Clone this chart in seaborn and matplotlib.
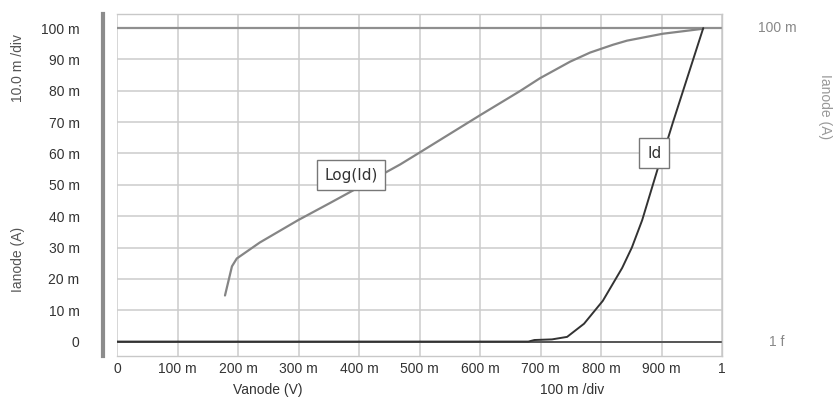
import matplotlib
matplotlib.use("Agg")
import matplotlib.pyplot as plt
import matplotlib.transforms as mtransforms
import seaborn as sns
import pandas as pd

# ---- data (V, A) ----
log_x = [0.1785, 0.190, 0.198, 0.236, 0.299, 0.352, 0.390, 0.468, 0.501,
         0.600, 0.666, 0.699, 0.749, 0.782, 0.820, 0.843, 0.902, 0.969]
log_y = [0.0147, 0.0240, 0.0265, 0.0316, 0.0387, 0.0442, 0.0482, 0.0565, 0.0604,
         0.0722, 0.0799, 0.0840, 0.0893, 0.0922, 0.0947, 0.0960, 0.0982, 0.0998]

id_x = [0.0, 0.680, 0.690, 0.719, 0.744, 0.772, 0.803, 0.835, 0.851, 0.868,
        0.894, 0.911, 0.919, 0.969]
id_y = [0.0, 0.0, 0.0005, 0.0007, 0.0015, 0.0057, 0.0130, 0.0235, 0.0300, 0.0387,
        0.0553, 0.0650, 0.0700, 0.1000]

x_ticks = [0.0, 0.1, 0.2, 0.3, 0.4, 0.5, 0.6, 0.7, 0.8, 0.9, 1.0]
x_labels = ["0", "100 m", "200 m", "300 m", "400 m", "500 m", "600 m",
            "700 m", "800 m", "900 m", "1"]
y_ticks = [0.0, 0.01, 0.02, 0.03, 0.04, 0.05, 0.06, 0.07, 0.08, 0.09, 0.10]
y_labels = ["0", "10 m", "20 m", "30 m", "40 m", "50 m", "60 m", "70 m",
            "80 m", "90 m", "100 m"]
right_ticks = [0.10, 0.0]
right_labels = ["100 m", "1 f"]

sns.set_theme(style="white")
FONT = ["Liberation Sans", "DejaVu Sans"]
plt.rcParams["font.family"] = FONT

fig = plt.figure(figsize=(8.35, 4.04), dpi=100)
ax = fig.add_axes([117 / 835, 1 - 356 / 404, 605 / 835, 342 / 404])

df_log = pd.DataFrame({"x": log_x, "y": log_y})
df_id = pd.DataFrame({"x": id_x, "y": id_y})

ax.set_xlim(0, 1)
ax.set_ylim(-0.0046, 0.1045)

ax.set_xticks(x_ticks)
ax.set_xticklabels(x_labels)
ax.set_yticks(y_ticks)
ax.set_yticklabels(y_labels)
ax.grid(True, color="#cccccc", linewidth=1.1)
ax.set_axisbelow(True)

ax.axhline(0.10, color="#8f8f8f", linewidth=1.6, zorder=2)
ax.axhline(0.0, color="#555555", linewidth=1.4, zorder=2)

sns.lineplot(data=df_log, x="x", y="y", ax=ax, color="#858585", linewidth=1.6,
             sort=False, zorder=3)
sns.lineplot(data=df_id, x="x", y="y", ax=ax, color="#333333", linewidth=1.4,
             sort=False, zorder=4)
ax.set_xlabel("")
ax.set_ylabel("")

for s in ["top", "right", "bottom"]:
    ax.spines[s].set_color("#c8c8c8")
    ax.spines[s].set_linewidth(1.0)
ax.spines["left"].set_position(("outward", 10))
ax.spines["left"].set_color("#8c8c8c")
ax.spines["left"].set_linewidth(3.0)

ax.tick_params(axis="y", length=0, pad=17, labelsize=10, labelcolor="#333333")
ax.tick_params(axis="x", length=0, pad=4, labelsize=10, labelcolor="#333333")

# right-side labels
tr = mtransforms.blended_transform_factory(ax.transAxes, ax.transData)
for v, lab in zip(right_ticks, right_labels):
    ax.text((777 - 117) / 605, v, lab, transform=tr, ha="center", va="center",
            fontsize=10, color="#888888")

fig.text(825 / 835, 1 - 107 / 404, "Ianode (A)", rotation=270, ha="center",
         va="center", fontsize=10, color="#999999")
fig.text(18 / 835, 1 - 68 / 404, "10.0 m /div", rotation=90, ha="center",
         va="center", fontsize=10, color="#555555")
fig.text(18 / 835, 1 - 259 / 404, "Ianode (A)", rotation=90, ha="center",
         va="center", fontsize=10, color="#555555")
fig.text(268 / 835, 1 - 390 / 404, "Vanode (V)", ha="center", va="center",
         fontsize=10, color="#333333")
fig.text(572 / 835, 1 - 390 / 404, "100 m /div", ha="center", va="center",
         fontsize=10, color="#333333")

box = dict(boxstyle="square,pad=0.5", facecolor="white", edgecolor="#777777",
           linewidth=1.0)
ax.text(0.387, 0.0531, "Log(Id)", ha="center", va="center", fontsize=11,
        color="#333333", family="DejaVu Sans", bbox=box, zorder=6)
ax.text(0.888, 0.0601, "Id", ha="center", va="center", fontsize=11,
        color="#333333", family="DejaVu Sans", bbox=box, zorder=6)

fig.savefig("out.png", dpi=100)
